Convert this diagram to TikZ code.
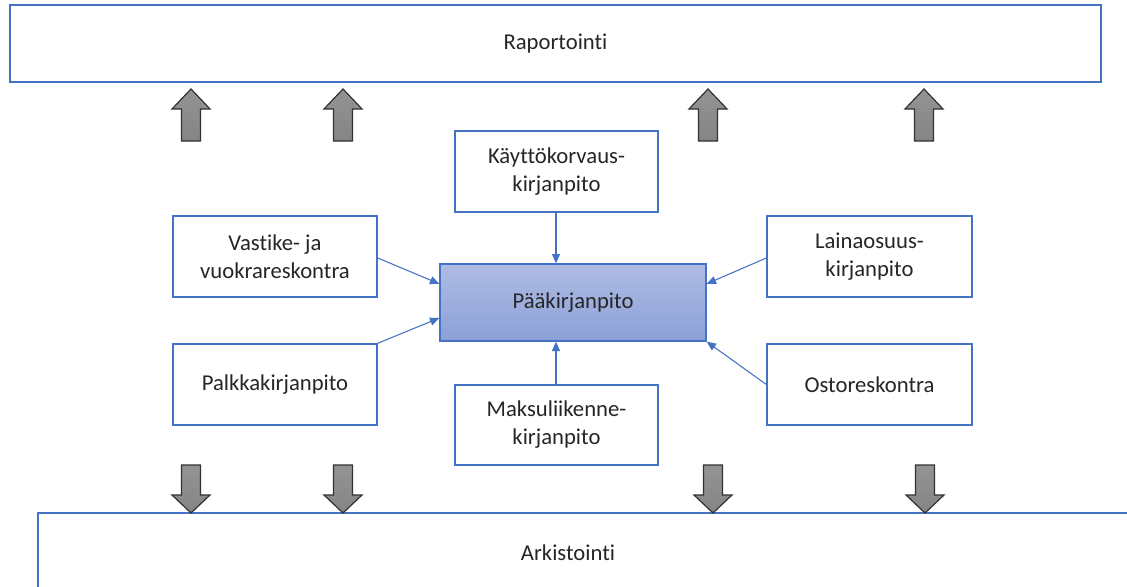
\documentclass[tikz,border=0pt]{standalone}
\usepackage{fontspec}
\setmainfont{Carlito}[Ligatures=NoCommon]
\usetikzlibrary{arrows.meta}
\definecolor{officeblue}{RGB}{68,114,196}
\definecolor{txt}{RGB}{38,38,38}
\definecolor{arrowedge}{RGB}{50,50,50}
\tikzset{
  box/.style={draw=officeblue, line width=1pt, fill=white, align=center,
    text=txt, font=\fontsize{17}{21}\selectfont, inner sep=0pt},
  link/.style={draw=officeblue, line width=0.8pt,
    -{Triangle[length=7pt,width=6pt]}},
  blockarrow/.style={draw=arrowedge, line width=0.9pt, line join=miter,
    top color=black!42, bottom color=black!48},
}
\begin{document}
\begin{tikzpicture}[x=0.75pt,y=-0.75pt]
\clip (0,0) rectangle (1127,586);
\fill[white] (0,0) rectangle (1127,586);

% top and bottom bands
\node[box, minimum width=818.25pt, minimum height=57.75pt] (rap) at (555.5,43.5) {Raportointi};
\node[box, minimum width=822pt, minimum height=60pt] (ark) at (586,553) {};
\node[text=txt, font=\fontsize{17}{21}\selectfont, inner sep=0pt] (arkt) at (568,553) {Arkistointi};

% ledger boxes
\node[box, minimum width=152.25pt, minimum height=60.75pt] (kaytto) at (556.5,171.5) {Käyttökorvaus-\\kirjanpito};
\node[box, minimum width=153pt, minimum height=60.75pt] (vastike) at (275,256.5) {Vastike- ja\\vuokrareskontra};
\node[box, minimum width=153.75pt, minimum height=60.75pt] (laina) at (869.5,256.5) {Lainaosuus-\\kirjanpito};
\node[box, minimum width=153pt, minimum height=60.75pt] (palkka) at (275,384.5) {Palkkakirjanpito};
\node[box, minimum width=153.75pt, minimum height=60.75pt] (osto) at (869.5,384.5) {Ostoreskontra};
\node[box, minimum width=152.25pt, minimum height=60pt] (maksu) at (556.5,425) {Maksuliikenne-\\kirjanpito};

% general ledger
\node[box, minimum width=199.5pt, minimum height=57.75pt,
  top color={rgb,255:red,174;green,188;blue,228},
  bottom color={rgb,255:red,140;green,160;blue,215}] (paa) at (573,302.5) {Pääkirjanpito};

% feeds into the general ledger
\draw[link] (kaytto.south -| 556,0) -- (paa.north -| 556,0);
\draw[link] (maksu.north -| 556,0) -- (paa.south -| 556,0);
\draw[link] ([yshift=-1.1pt]vastike.east) -- ([yshift=14pt]paa.west);
\draw[link] (palkka.north east) -- ([yshift=-11.6pt]paa.west);
\draw[link] ([yshift=-1.1pt]laina.west) -- ([yshift=14pt]paa.east);
\draw[link] (osto.west) -- (paa.south east);

% block arrows up to reporting
\foreach \cx in {191,343,708,924}{
  \draw[blockarrow] (\cx,89) -- (\cx+19,109) -- (\cx+9.5,109) -- (\cx+9.5,141)
    -- (\cx-9.5,141) -- (\cx-9.5,109) -- (\cx-19,109) -- cycle;
}
% block arrows down to archiving
\foreach \cx in {191,343,713,925}{
  \draw[blockarrow] (\cx-9.5,465) -- (\cx+9.5,465) -- (\cx+9.5,495) -- (\cx+19,495)
    -- (\cx,513) -- (\cx-19,495) -- (\cx-9.5,495) -- cycle;
}
\end{tikzpicture}
\end{document}
